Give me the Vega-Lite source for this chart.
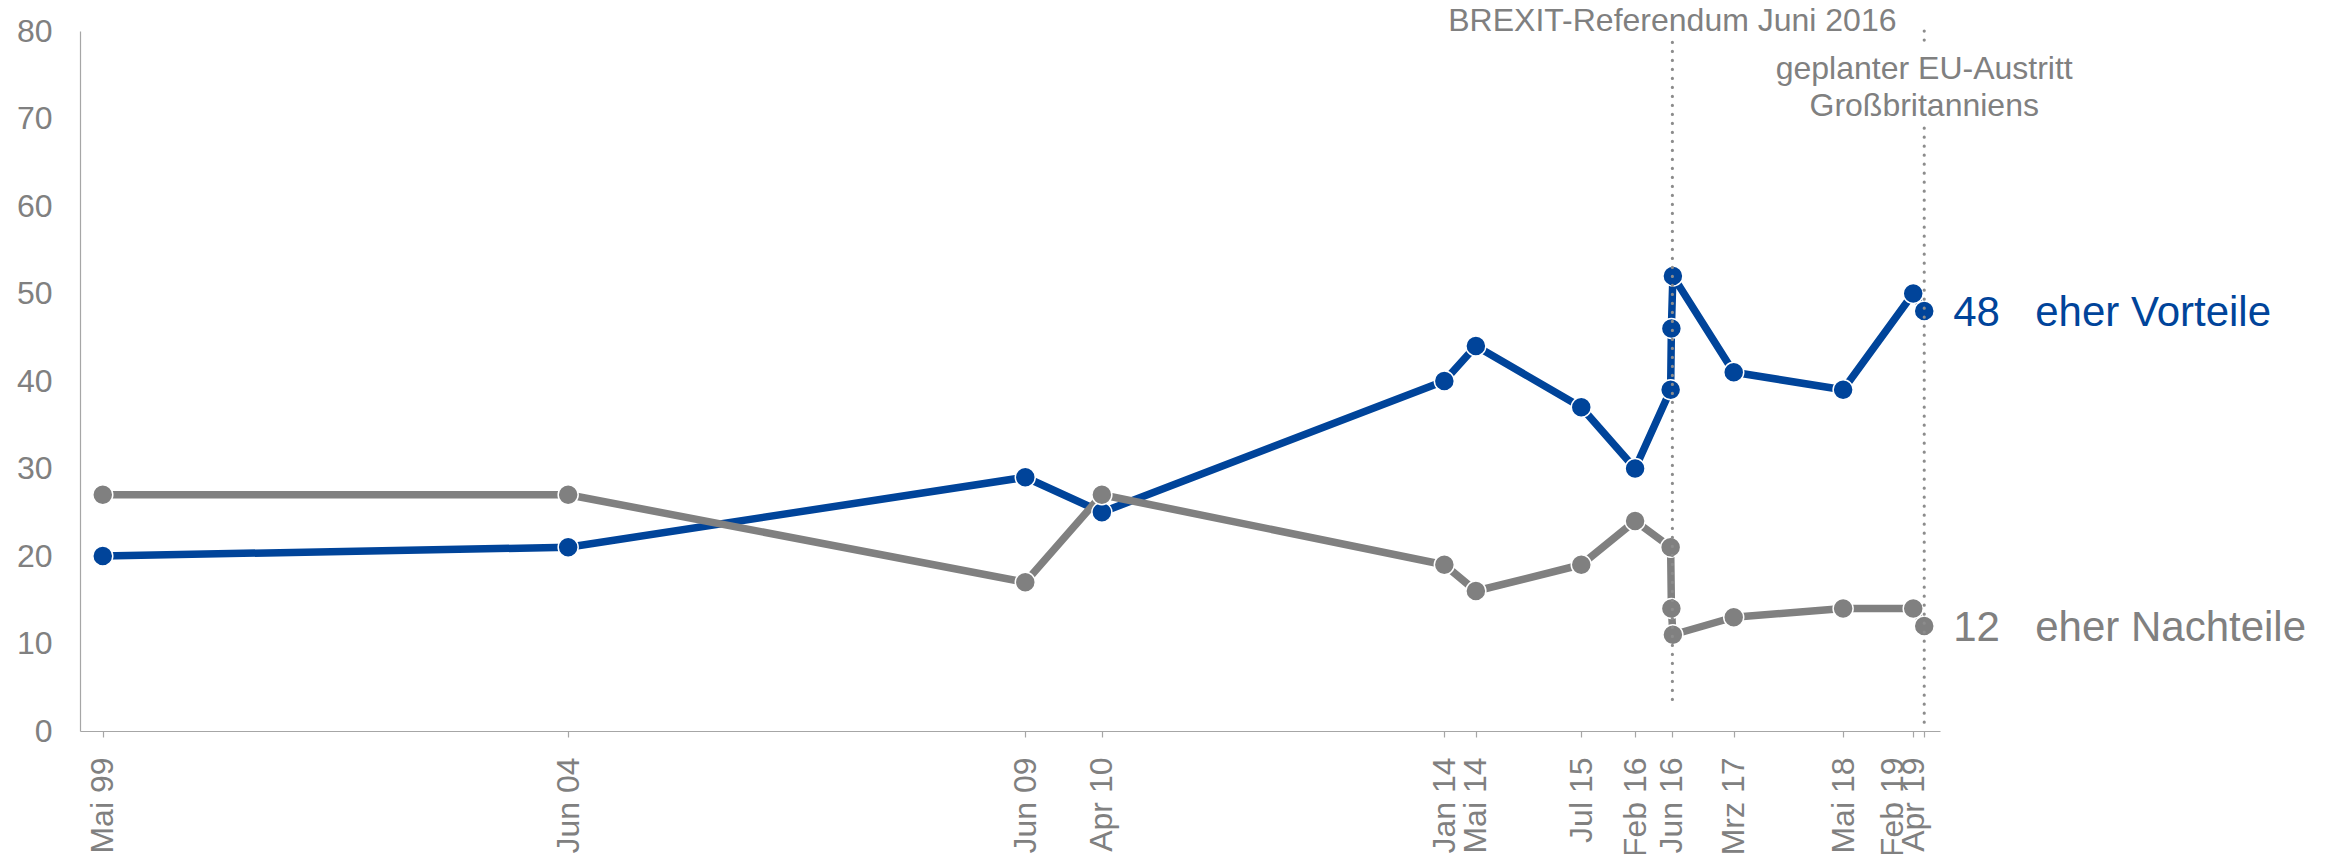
{
  "$schema": "https://vega.github.io/schema/vega-lite/v6.json",
  "width": 1860,
  "height": 700,
  "autosize": {"type": "none"},
  "padding": {"left": 80, "top": 31, "right": 399, "bottom": 123},
  "background": "white",
  "config": {
    "font": "Liberation Sans",
    "view": {"stroke": null}
  },
  "datasets": {
    "survey": [
      {"date": "1999-05-14", "value": 20, "series": "eher Vorteile"},
      {"date": "2004-06-15", "value": 21, "series": "eher Vorteile"},
      {"date": "2009-06-15", "value": 29, "series": "eher Vorteile"},
      {"date": "2010-04-17", "value": 25, "series": "eher Vorteile"},
      {"date": "2014-01-14", "value": 40, "series": "eher Vorteile"},
      {"date": "2014-05-20", "value": 44, "series": "eher Vorteile"},
      {"date": "2015-07-15", "value": 37, "series": "eher Vorteile"},
      {"date": "2016-02-15", "value": 30, "series": "eher Vorteile"},
      {"date": "2016-07-06", "value": 39, "series": "eher Vorteile"},
      {"date": "2016-07-09", "value": 46, "series": "eher Vorteile"},
      {"date": "2016-07-15", "value": 52, "series": "eher Vorteile"},
      {"date": "2017-03-15", "value": 41, "series": "eher Vorteile"},
      {"date": "2018-05-26", "value": 39, "series": "eher Vorteile"},
      {"date": "2019-03-02", "value": 50, "series": "eher Vorteile"},
      {"date": "2019-04-15", "value": 48, "series": "eher Vorteile"},
      {"date": "1999-05-14", "value": 27, "series": "eher Nachteile"},
      {"date": "2004-06-15", "value": 27, "series": "eher Nachteile"},
      {"date": "2009-06-15", "value": 17, "series": "eher Nachteile"},
      {"date": "2010-04-17", "value": 27, "series": "eher Nachteile"},
      {"date": "2014-01-14", "value": 19, "series": "eher Nachteile"},
      {"date": "2014-05-20", "value": 16, "series": "eher Nachteile"},
      {"date": "2015-07-15", "value": 19, "series": "eher Nachteile"},
      {"date": "2016-02-15", "value": 24, "series": "eher Nachteile"},
      {"date": "2016-07-06", "value": 21, "series": "eher Nachteile"},
      {"date": "2016-07-09", "value": 14, "series": "eher Nachteile"},
      {"date": "2016-07-15", "value": 11, "series": "eher Nachteile"},
      {"date": "2017-03-15", "value": 13, "series": "eher Nachteile"},
      {"date": "2018-05-26", "value": 14, "series": "eher Nachteile"},
      {"date": "2019-03-02", "value": 14, "series": "eher Nachteile"},
      {"date": "2019-04-15", "value": 12, "series": "eher Nachteile"}
    ],
    "rules": [
      {"date": "2016-07-13", "value": 78.7, "value2": 2.9},
      {"date": "2019-04-15", "value": 80, "value2": 78.6},
      {"date": "2019-04-15", "value": 68.9, "value2": 0}
    ],
    "notes": [
      {"date": "2016-07-13", "value": 80, "note": "BREXIT-Referendum Juni 2016"},
      {"date": "2019-04-15", "value": 74.5, "note": "geplanter EU-Austritt\nGroßbritanniens"}
    ],
    "endlabels": [
      {"date": "2019-04-15", "value": 48, "num": "48", "series": "eher Vorteile"},
      {"date": "2019-04-15", "value": 12, "num": "12", "series": "eher Nachteile"}
    ]
  },
  "encoding": {
    "x": {
      "field": "date",
      "type": "temporal",
      "scale": {
        "domain": [
          {"year": 1999, "month": 2, "date": 12, "utc": true},
          {"year": 2019, "month": 6, "date": 17, "utc": true}
        ]
      },
      "axis": {
        "title": null,
        "grid": false,
        "values": [
          {"year": 1999, "month": 5, "date": 14, "utc": true},
          {"year": 2004, "month": 6, "date": 15, "utc": true},
          {"year": 2009, "month": 6, "date": 15, "utc": true},
          {"year": 2010, "month": 4, "date": 17, "utc": true},
          {"year": 2014, "month": 1, "date": 14, "utc": true},
          {"year": 2014, "month": 5, "date": 20, "utc": true},
          {"year": 2015, "month": 7, "date": 15, "utc": true},
          {"year": 2016, "month": 2, "date": 15, "utc": true},
          {"year": 2016, "month": 7, "date": 10, "utc": true},
          {"year": 2017, "month": 3, "date": 15, "utc": true},
          {"year": 2018, "month": 5, "date": 26, "utc": true},
          {"year": 2019, "month": 3, "date": 2, "utc": true},
          {"year": 2019, "month": 4, "date": 15, "utc": true}
        ],
        "labelExpr": "datum.value < utc(2002,0,1) ? 'Mai 99' : datum.value < utc(2007,0,1) ? 'Jun 04' : datum.value < utc(2010,0,1) ? 'Jun 09' : datum.value < utc(2012,0,1) ? 'Apr 10' : datum.value < utc(2014,2,1) ? 'Jan 14' : datum.value < utc(2015,0,1) ? 'Mai 14' : datum.value < utc(2015,10,1) ? 'Jul 15' : datum.value < utc(2016,4,1) ? 'Feb 16' : datum.value < utc(2016,11,1) ? 'Jun 16' : datum.value < utc(2017,11,1) ? 'Mrz 17' : datum.value < utc(2018,11,1) ? 'Mai 18' : datum.value < utc(2019,2,25) ? 'Feb 19' : 'Apr 19'",
        "labelOffset": {
          "condition": [
            {"test": "datum.value > utc(2019,2,25)", "value": -11},
            {"test": "datum.value > utc(2019,0,1)", "value": -21}
          ],
          "value": 0
        },
        "labelAngle": -90,
        "labelFontSize": 32,
        "labelColor": "#808080",
        "labelPadding": 20,
        "labelOverlap": false,
        "labelFlush": false,
        "labelBound": false,
        "tickSize": 6,
        "tickColor": "#a6a6a6",
        "tickWidth": 1.2,
        "domainColor": "#a6a6a6",
        "domainWidth": 1.2
      }
    },
    "y": {
      "field": "value",
      "type": "quantitative",
      "scale": {"domain": [0, 80], "nice": false, "zero": true},
      "axis": {
        "title": null,
        "grid": false,
        "values": [0, 10, 20, 30, 40, 50, 60, 70, 80],
        "ticks": false,
        "tickSize": 0,
        "labelPadding": 28,
        "labelFontSize": 32,
        "labelColor": "#808080",
        "domainColor": "#a6a6a6",
        "domainWidth": 1.2
      }
    }
  },
  "layer": [
    {
      "data": {"name": "survey"},
      "mark": {"type": "line", "strokeWidth": 7.5, "strokeJoin": "round"},
      "encoding": {
        "color": {
          "field": "series",
          "type": "nominal",
          "scale": {"domain": ["eher Vorteile", "eher Nachteile"], "range": ["#00449a", "#808080"]},
          "legend": null
        }
      }
    },
    {
      "data": {"name": "survey"},
      "mark": {"type": "point", "filled": true, "size": 400, "stroke": "white", "strokeWidth": 1.5, "opacity": 1, "strokeOpacity": 1},
      "encoding": {
        "color": {"field": "series", "type": "nominal", "legend": null}
      }
    },
    {
      "data": {"name": "rules"},
      "mark": {"type": "rule", "color": "#8c8c8c", "strokeWidth": 3.2, "strokeDash": [0.1, 8.9], "strokeCap": "round"},
      "encoding": {
        "y2": {"field": "value2"}
      }
    },
    {
      "data": {"name": "notes"},
      "mark": {"type": "text", "align": "center", "baseline": "alphabetic", "fontSize": 32, "color": "#808080", "lineBreak": "\n", "lineHeight": 37},
      "encoding": {
        "text": {"field": "note", "type": "nominal"}
      }
    },
    {
      "data": {"name": "endlabels"},
      "mark": {"type": "text", "align": "left", "baseline": "alphabetic", "fontSize": 42, "dx": 29, "dy": 15},
      "encoding": {
        "text": {"field": "num", "type": "nominal"},
        "color": {"field": "series", "type": "nominal", "legend": null}
      }
    },
    {
      "data": {"name": "endlabels"},
      "mark": {"type": "text", "align": "left", "baseline": "alphabetic", "fontSize": 42, "dx": 111, "dy": 15},
      "encoding": {
        "text": {"field": "series", "type": "nominal"},
        "color": {"field": "series", "type": "nominal", "legend": null}
      }
    }
  ]
}
